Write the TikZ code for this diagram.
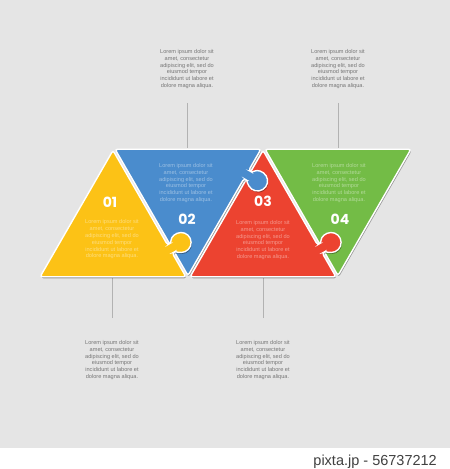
\documentclass[tikz,border=0pt]{standalone}
\usepackage{fontspec}
\setmainfont{Liberation Sans}
\newfontfamily\numfont{Poppins}
\usepackage{tikz}
\usetikzlibrary{positioning,calc}

\definecolor{bgc}{RGB}{229,229,229}
\definecolor{yellowc}{RGB}{252,194,22}
\definecolor{bluec}{RGB}{74,140,205}
\definecolor{redc}{RGB}{236,67,48}
\definecolor{greenc}{RGB}{115,188,70}
\definecolor{notec}{RGB}{118,118,118}
\definecolor{leadc}{RGB}{178,178,178}

\newcommand{\lorem}{Lorem ipsum dolor sit\\amet, consectetur\\adipiscing elit, sed do\\eiusmod tempor\\incididunt ut labore et\\dolore magna aliqua.}

% tab on an edge: base point / direction of the edge
\newcommand{\knob}[2]{%
  -- ([shift={(#1)},rotate=#2]-4.8,0)
  -- ([shift={(#1)},rotate=#2]-4.8,4.23)
  arc[start angle={241.3+#2}, end angle={-61.3+#2}, radius=10]
  -- ([shift={(#1)},rotate=#2]4.8,0)}

\begin{document}
\begin{tikzpicture}[
    x=1pt, y=1pt,
    piece/.style={
       draw=white,
       line width=1.4pt,
       rounded corners=2.5pt,
       preaction={draw=none, fill=black, fill opacity=0.35,
         transform canvas={shift={(0.8pt,-1.5pt)}}}},
    numtext/.style={
       text=white,
       inner sep=0pt,
       font=\numfont\bfseries\fontsize{14}{14}\selectfont},
    intext/.style={
       text=white,
       text opacity=0.45,
       align=center,
       inner sep=0pt,
       font=\fontsize{5.6}{6.8}\selectfont},
    notetext/.style={
       text=notec,
       align=center,
       inner sep=0pt,
       font=\fontsize{5.6}{6.8}\selectfont},
    leader/.style={draw=leadc, line width=0.8pt}
    ]
    % background and lower strip
    \fill[bgc] (0,21) rectangle (450,469);
    \fill[white] (0,0) rectangle (450,21);
    \useasboundingbox (0,0) rectangle (450,469);

    % corners of the strip
    \coordinate (b0) at (38,191);
    \coordinate (t0) at (113,321);
    \coordinate (b1) at (188,191);
    \coordinate (t1) at (263,321);
    \coordinate (b2) at (338,191);
    \coordinate (t2) at (413,321);

  \foreach \p/\u/\v/\w in {% piece/first/second/third corner
    pa/b0/t0/b1,
    pb/t0/t1/b1,
    pc/b1/t1/b2,
    pd/t1/t2/b2}
  {
    \coordinate (\p-c) at ($0.3333*(\u)+0.3333*(\v)+0.3333*(\w)$);
    \coordinate (\p1) at ($(\p-c)!0.972!(\u)$);
    \coordinate (\p2) at ($(\p-c)!0.972!(\v)$);
    \coordinate (\p3) at ($(\p-c)!0.972!(\w)$);
  }
    \coordinate (ka) at ($(pa2)!0.78!(pa3)$);
    \coordinate (kb) at ($(pb2)!0.2!(pb3)$);
    \coordinate (kc) at ($(pc2)!0.78!(pc3)$);

    % notes and leaders
    \node[notetext] (note2) at (187,400) {\lorem};
    \node[notetext] (note4) at (338,400) {\lorem};
    \node[notetext] (note1) at (112,109) {\lorem};
    \node[notetext] (note3) at (263,109) {\lorem};
    \coordinate (top2) at ($(t0)!0.5!(t1)$);
    \coordinate (top4) at ($(t1)!0.5!(t2)$);
    \coordinate (bot1) at ($(b0)!0.5!(b1)$);
    \coordinate (bot3) at ($(b1)!0.5!(b2)$);
    \draw[leader, shorten <=14pt] (note2.south) -- (note2.south |- top2);
    \draw[leader, shorten <=14pt] (note4.south) -- (top4);
    \draw[leader, shorten <=22pt] (note1.north) -- (note1.north |- bot1);
    \draw[leader, shorten <=22pt] (note3.north) -- (bot3);

    % pieces, each tab lies over the piece before
    \draw[piece, fill=greenc] (pd1) -- (pd2) -- (pd3) -- cycle;
    \draw[piece, fill=redc] (pc1) -- (pc2) \knob{kc}{-60} -- (pc3) -- cycle;
    \draw[piece, fill=bluec] (pb1) -- (pb2) \knob{kb}{-120} -- (pb3) -- cycle;
    \draw[piece, fill=yellowc] (pa1) -- (pa2) \knob{ka}{-60} -- (pa3) -- cycle;

  \foreach \n/\x/\y/\tx/\ty in {% number/number position/text position
    1/110/267/112/229.5,
    2/187/250/186/286,
    3/263/268/263/229,
    4/340/250/339/286}
  {
    \node[numtext] (num\n) at (\x,\y) {0\n};
    \node[intext] (in\n) at (\tx,\ty) {\lorem};
  }

    \node[font=\fontsize{14.5}{14.5}\selectfont, text=black!75,
      anchor=base east, inner sep=0pt] (credit) at (437,4) {pixta.jp - 56737212};
\end{tikzpicture}
\end{document}
